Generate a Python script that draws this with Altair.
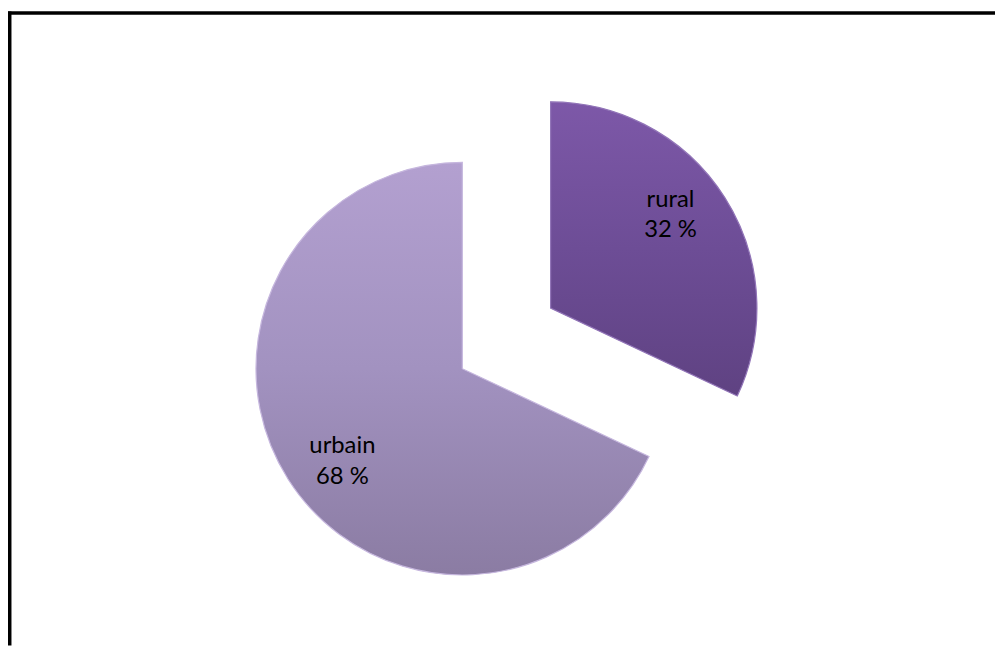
import altair as alt
import pandas as pd

categories = ["rural", "urbain"]
values = [32, 68]
order = [0, 1]
labels = [f"{c}\n{v} %" for c, v in zip(categories, values)]

df = pd.DataFrame({"category": categories, "value": values, "order": order, "label": labels})

W, H = 995, 640

grad_u = alt.LinearGradient(gradient="linear", x1=0, y1=0, x2=0, y2=1,
                            stops=[alt.GradientStop(color="#b3a0d0", offset=0),
                                   alt.GradientStop(color="#a292c0", offset=0.5),
                                   alt.GradientStop(color="#8b7ca3", offset=1)])
grad_r = alt.LinearGradient(gradient="linear", x1=0, y1=0, x2=0, y2=1,
                            stops=[alt.GradientStop(color="#7d58a8", offset=0),
                                   alt.GradientStop(color="#6d4d96", offset=0.5),
                                   alt.GradientStop(color="#5f4282", offset=1)])

theta_scale = alt.Scale(domain=[0, 100])

base = alt.Chart(df).transform_stack(
    stack="value", as_=["start", "end"], groupby=[],
    sort=[alt.SortField("order", order="ascending")]
).transform_calculate(mid="(datum.start + datum.end) / 2 - 1.5")

offsets = {"urbain": (-39.5, 41), "rural": (49.5, -20)}
fills = {"urbain": grad_u, "rural": grad_r}
strokes = {"urbain": "#c6b7de", "rural": "#9275b8"}

layers = []
for cat in ["urbain", "rural"]:
    dx, dy = offsets[cat]
    sub = base.transform_filter(alt.datum.category == cat)
    arc = sub.mark_arc(outerRadius=208, xOffset=dx, yOffset=dy, fill=fills[cat],
                       stroke=strokes[cat], strokeWidth=1.2).encode(
        theta=alt.Theta("start:Q", scale=theta_scale),
        theta2="end:Q",
    )
    txt = sub.mark_text(radius=153, xOffset=dx, yOffset=dy, dy=-15.5, font="Lato", fontSize=24,
                        lineBreak="\n", lineHeight=31, align="center", baseline="middle",
                        color="#000000").encode(
        theta=alt.Theta("mid:Q", scale=theta_scale),
        text="label:N",
    )
    layers += [arc, txt]

frame_data = alt.Data(values=[{"k": 1}])
top_rule = alt.Chart(frame_data).mark_rule(color="black", strokeWidth=3.5).encode(
    x=alt.value(0), x2=alt.value(W), y=alt.value(2.5))
left_rule = alt.Chart(frame_data).mark_rule(color="black", strokeWidth=3.5).encode(
    x=alt.value(1.75), y=alt.value(1), y2=alt.value(H))

chart = alt.layer(*layers, top_rule, left_rule).properties(
    width=W, height=H, padding=0, autosize=alt.AutoSizeParams(type="none")
).configure_view(stroke=None)

chart.save("out.html", embed_options={"renderer": "svg", "actions": False})
